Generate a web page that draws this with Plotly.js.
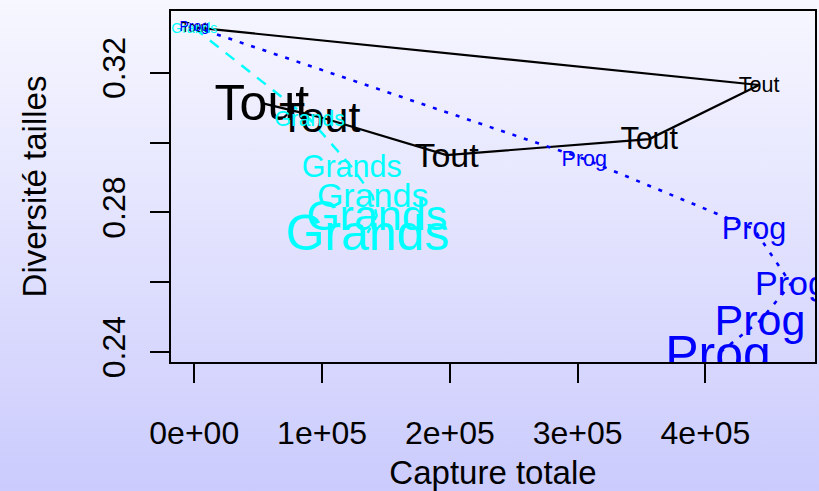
<!DOCTYPE html>
<html>
<head>
<meta charset="utf-8">
<script src="https://cdn.plot.ly/plotly-3.0.1.min.js"></script>
<style>
  html, body { margin: 0; padding: 0; width: 819px; height: 491px; overflow: hidden;
    background: linear-gradient(to bottom, #f7f7ff 0%, #cbcbfd 100%); }
  #chart { width: 819px; height: 491px; }
</style>
</head>
<body>
<div id="chart"></div>
<script>
// Data (Capture totale vs Diversité tailles)
const toutX   = [0, 442000, 356000, 197400, 98200, 52900];
const toutY   = [0.3330, 0.3165, 0.3010, 0.2964, 0.3073, 0.3113];
const grandsX = [0, 90400, 123200, 139600, 142700, 135700];
const grandsY = [0.3328, 0.3067, 0.2930, 0.2847, 0.2790, 0.2741];
const progX   = [0, 305200, 438000, 466900, 442600, 409800];
const progY   = [0.3332, 0.2953, 0.2752, 0.2595, 0.2489, 0.2394];
const labelTout = "Tout", labelGrands = "Grands", labelProg = "Prog";

const xTickVals = [0, 100000, 200000, 300000, 400000];
const xTickText = ["0e+00", "1e+05", "2e+05", "3e+05", "4e+05"];
const yTickVals = [0.24, 0.26, 0.28, 0.30, 0.32];
const yTickText = ["0.24", "", "0.28", "", "0.32"];

// label font sizes grow along each trajectory (style, not data)
const labelSizes = [14, 21.5, 30.5, 34, 43, 50];

const FONT = '"Liberation Sans", Arial, Helvetica, sans-serif';

const Y_RANGE = [0.2371, 0.3377];
const X_RANGE = [-18200, 485700];
const MARGIN = { l: 171, r: 4, t: 11, b: 129, pad: 0 };
const H = 491;
// Plotly draws a centred label a little above its anchor (it centres the whole
// line box); R centres the glyphs.  Nudge labels down by a fraction of their size.
const plotH = H - MARGIN.t - MARGIN.b;
const unitsPerPx = (Y_RANGE[1] - Y_RANGE[0]) / plotH;
const LABEL_NUDGE = 0.09; // in em
function labelY(ys) { return ys.map((v, i) => v - LABEL_NUDGE * labelSizes[i] * unitsPerPx); }

function lineTrace(x, y, color, dash, w) {
  return { x: x, y: y, type: 'scatter', mode: 'lines', hoverinfo: 'skip',
    line: { color: color, width: w, dash: dash }, showlegend: false, cliponaxis: true };
}
function textTrace(x, y, label, color) {
  return { x: x, y: labelY(y), type: 'scatter', mode: 'text', hoverinfo: 'skip',
    text: x.map(() => label), textposition: 'middle center',
    textfont: { family: FONT, size: labelSizes, color: color },
    showlegend: false, cliponaxis: true };
}

const data = [
  lineTrace(toutX, toutY, '#000000', 'solid', 2.2),
  lineTrace(grandsX, grandsY, '#00ffff', '11px,9px', 2.4),
  lineTrace(progX, progY, '#0000ff', '4px,8px', 2.6),
  textTrace(toutX, toutY, labelTout, '#000000'),
  textTrace(grandsX, grandsY, labelGrands, '#00ffff'),
  textTrace(progX, progY, labelProg, '#0000ff')
];

const axisCommon = {
  showgrid: false, zeroline: false,
  showline: true, mirror: true, linecolor: '#000', linewidth: 2,
  ticks: 'outside', ticklen: 19, tickwidth: 2, tickcolor: '#000',
  tickfont: { family: FONT, size: 32, color: '#000' }
};

const layout = {
  width: 819, height: H, autosize: false,
  margin: MARGIN,
  paper_bgcolor: 'rgba(0,0,0,0)', plot_bgcolor: 'rgba(0,0,0,0)',
  font: { family: FONT, color: '#000' },
  xaxis: Object.assign({}, axisCommon, {
    range: X_RANGE,
    tickmode: 'array', tickvals: xTickVals, ticktext: xTickText,
    ticklabelstandoff: 23,
    title: { text: 'Capture totale', font: { family: FONT, size: 33, color: '#000' }, standoff: 19 }
  }),
  yaxis: Object.assign({}, axisCommon, {
    range: Y_RANGE,
    tickmode: 'array', tickvals: yTickVals, ticktext: yTickText,
    tickangle: -90, ticklabelstandoff: 12,
    title: { text: 'Diversité tailles', font: { family: FONT, size: 33, color: '#000' }, standoff: 40 }
  })
};

Plotly.newPlot('chart', data, layout, { staticPlot: true, displayModeBar: false });
</script>
</body>
</html>
